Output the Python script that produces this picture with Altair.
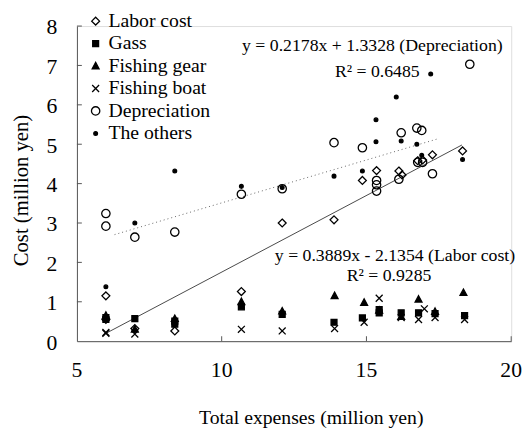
import altair as alt
import pandas as pd

categories = ["Labor cost", "Gass", "Fishing gear", "Fishing boat", "Depreciation", "The others"]

labor_x = [6.0, 6.0, 7.0, 8.38, 10.68, 12.09, 13.88, 14.86, 15.35, 16.12, 16.23, 16.77, 16.94, 17.28, 18.32]
labor_y = [1.15, 0.55, 0.32, 0.26, 1.26, 3.0, 3.08, 4.08, 4.33, 4.32, 4.22, 4.58, 4.6, 4.73, 4.83]

gass_x = [6.0, 6.0, 7.0, 8.38, 8.38, 10.68, 12.09, 13.88, 14.86, 15.44, 15.44, 16.2, 16.8, 17.37, 18.39]
gass_y = [0.55, 0.6, 0.57, 0.51, 0.43, 0.87, 0.68, 0.48, 0.59, 0.8, 0.72, 0.72, 0.72, 0.7, 0.65]

gear_x = [6.0, 7.0, 8.38, 10.68, 12.09, 13.9, 14.92, 15.44, 16.2, 16.8, 17.37, 18.35]
gear_y = [0.65, 0.3, 0.57, 1.0, 0.76, 1.15, 0.98, 0.78, 0.62, 1.06, 0.75, 1.23]

boat_x = [6.0, 6.0, 7.0, 10.68, 12.09, 13.9, 14.92, 15.44, 16.2, 16.8, 17.0, 17.37, 18.39]
boat_y = [0.22, 0.2, 0.18, 0.3, 0.26, 0.32, 0.48, 1.09, 0.6, 0.55, 0.82, 0.6, 0.55]

dep_x = [6.0, 6.0, 7.0, 8.38, 10.68, 12.09, 13.88, 14.86, 15.35, 15.35, 15.35, 16.12, 16.2, 16.74, 16.91, 16.77, 16.94, 17.28, 18.57]
dep_y = [3.24, 2.92, 2.64, 2.77, 3.73, 3.87, 5.04, 4.91, 4.08, 3.97, 3.81, 4.11, 5.29, 5.41, 5.35, 4.54, 4.54, 4.25, 7.03]

oth_x = [6.0, 7.0, 8.38, 10.68, 12.09, 13.88, 14.86, 15.33, 15.33, 16.03, 16.2, 16.74, 16.91, 17.22, 18.32]
oth_y = [1.38, 3.0, 4.32, 3.93, 3.9, 4.19, 4.32, 5.62, 5.06, 6.2, 5.08, 5.0, 4.72, 6.78, 4.61]

# regression equations from the chart
fit_names = ["Labor cost", "Depreciation"]
fit_slope = [0.3889, 0.2178]
fit_icpt = [-2.1354, 1.3328]
fit_xmin = [6.0, 6.3]
fit_xmax = [18.3, 17.5]

x_ticks = [5, 10, 15, 20]
y_ticks = [0, 1, 2, 3, 4, 5, 6, 7, 8]
x_title = "Total expenses (million yen)"
y_title = "Cost (million yen)"

series = [(labor_x, labor_y), (gass_x, gass_y), (gear_x, gear_y),
          (boat_x, boat_y), (dep_x, dep_y), (oth_x, oth_y)]
rows = []
for cat, (xs_, ys_) in zip(categories, series):
    for xv, yv in zip(xs_, ys_):
        rows.append({"category": cat, "x": xv, "y": yv})
df = pd.DataFrame(rows)

fit_rows = []
for n, s, b, a, e in zip(fit_names, fit_slope, fit_icpt, fit_xmin, fit_xmax):
    fit_rows.append({"fit": n, "x": a, "y": s * a + b})
    fit_rows.append({"fit": n, "x": e, "y": s * e + b})
fit_df = pd.DataFrame(fit_rows)

FONT = "Liberation Serif"
W, H = 441, 320

xs = alt.Scale(domain=[5, 20], nice=False, zero=False)
ys = alt.Scale(domain=[0, 8], nice=False)

shape_range = [
    "M0,-0.8L0.8,0L0,0.8L-0.8,0Z",
    "M-0.6,-0.6H0.6V0.6H-0.6Z",
    "M0,-0.75L0.7,0.55L-0.7,0.55Z",
    "M-0.7,-0.7L0.7,0.7M-0.7,0.7L0.7,-0.7",
    "M-0.85,0A0.85,0.85 0 1,0 0.85,0A0.85,0.85 0 1,0 -0.85,0Z",
    "M-0.38,0A0.38,0.38 0 1,0 0.38,0A0.38,0.38 0 1,0 -0.38,0Z",
]
fill_range = ["transparent", "black", "black", "black", "transparent", "black"]
stroke_range = ["black"] * 6

leg = alt.Legend(title=None, orient="none", legendX=9, legendY=-15,
                 labelFont=FONT, labelFontSize=20, labelColor="black",
                 symbolSize=100, symbolStrokeColor="black", symbolStrokeWidth=1.3,
                 rowPadding=2.8, labelOffset=3)

plain_axis = alt.Axis(labels=False, title=None, ticks=False, grid=False, domainColor="#555")

points = alt.Chart(df).mark_point(size=100, strokeWidth=1.3, opacity=1).encode(
    x=alt.X("x:Q", scale=xs, axis=plain_axis),
    y=alt.Y("y:Q", scale=ys, axis=plain_axis),
    shape=alt.Shape("category:N", scale=alt.Scale(domain=categories, range=shape_range), legend=leg),
    fill=alt.Fill("category:N", scale=alt.Scale(domain=categories, range=fill_range), legend=leg),
    stroke=alt.Stroke("category:N", scale=alt.Scale(domain=categories, range=stroke_range), legend=leg),
)

labor_line = alt.Chart(fit_df).transform_filter(alt.datum.fit == "Labor cost").mark_line(
    color="#333", strokeWidth=0.9).encode(x=alt.X("x:Q", scale=xs), y=alt.Y("y:Q", scale=ys))
dep_line = alt.Chart(fit_df).transform_filter(alt.datum.fit == "Depreciation").mark_line(
    color="#666", strokeWidth=1, strokeDash=[1, 3]).encode(x=alt.X("x:Q", scale=xs), y=alt.Y("y:Q", scale=ys))

ytick_df = pd.DataFrame({"v": y_ticks})
xtick_df = pd.DataFrame({"v": x_ticks})
ytick = alt.Chart(ytick_df).transform_filter(alt.datum.v > 0).mark_rule(color="#555", strokeWidth=1).encode(
    y=alt.Y("v:Q", scale=ys), x=alt.value(0), x2=alt.value(5))
xtick = alt.Chart(xtick_df).transform_filter(alt.datum.v > 5).mark_rule(color="#555", strokeWidth=1).encode(
    x=alt.X("v:Q", scale=xs), y=alt.value(H), y2=alt.value(H - 5))

ylabels = alt.Chart(ytick_df).mark_text(font=FONT, fontSize=22, color="black", align="right",
                                         baseline="middle", dy=1.5).encode(
    y=alt.Y("v:Q", scale=ys), x=alt.value(-20), text=alt.Text("v:Q"))
xlabels = alt.Chart(xtick_df).mark_text(font=FONT, fontSize=22, color="black", align="center",
                                         baseline="middle").encode(
    x=alt.X("v:Q", scale=xs), y=alt.value(H + 29), text=alt.Text("v:Q"))

def label(text, px, py, size=18, angle=0, baseline="middle"):
    return alt.Chart(pd.DataFrame({"t": [text]})).mark_text(
        font=FONT, fontSize=size, color="black", align="center", baseline=baseline, angle=angle).encode(
        x=alt.value(px), y=alt.value(py), text="t:N")

texts = (label("y = 0.2178x + 1.3328 (Depreciation)", 300, 20)
         + label("R\u00b2 = 0.6485", 305, 47)
         + label("y = 0.3889x - 2.1354 (Labor cost)", 323, 234)
         + label("R\u00b2 = 0.9285", 317, 254)
         + label(x_title, 238, 404, size=20, baseline="alphabetic")
         + label(y_title, -56, 167, size=21, angle=270))

chart = alt.layer(dep_line, labor_line, ytick, xtick, ylabels, xlabels, points, texts).properties(
    width=W, height=H,
    autosize=alt.AutoSizeParams(type="none"),
    padding={"left": 70, "top": 15, "right": 13, "bottom": 95},
).configure_view(stroke=None).configure(
    background="white", font=FONT,
    style={"guide-label": {"font": FONT}, "guide-title": {"font": FONT}},
).configure_axis(labelFont=FONT, titleFont=FONT).configure_legend(labelFont=FONT)

chart.save("out.html", embed_options={"renderer": "svg", "actions": False})
